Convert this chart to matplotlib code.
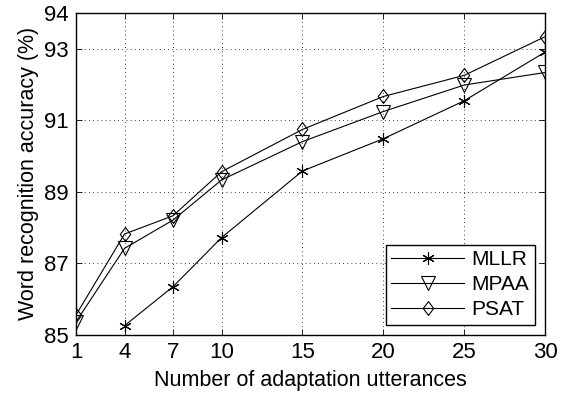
import numpy as np
import matplotlib

matplotlib.use("Agg")
import matplotlib.pyplot as plt

# data
utterances = [1, 4, 7, 10, 15, 20, 25, 30]
mllr = [np.nan, 85.26, 86.35, 87.72, 89.58, 90.48, 91.54, 92.90]
mpaa = [85.37, 87.42, 88.21, 89.33, 90.40, 91.24, 91.98, 92.33]
psat = [85.56, 87.82, 88.33, 89.56, 90.74, 91.66, 92.25, 93.33]
yticks = [85, 87, 89, 91, 93, 94]

DIAMOND = [(0, -1), (0.75, 0), (0, 1), (-0.75, 0), (0, -1)]


def main():
    plt.rcParams.update({"font.family": "Liberation Sans", "font.size": 15})
    fig = plt.figure(figsize=(5.66, 3.93), dpi=100)
    ax = fig.add_axes([0.1343, 0.1476, 0.8287, 0.8201])

    style = dict(color="black", linewidth=0.8, markerfacecolor="none",
                 markeredgecolor="black", markeredgewidth=0.8)
    ax.plot(utterances, mllr, marker=(6, 2, 0), markersize=9, label="MLLR", **style)
    ax.plot(utterances, mpaa, marker="v", markersize=9.5, label="MPAA", **style)
    ax.plot(utterances, psat, marker=DIAMOND, markersize=10, label="PSAT", **style)

    ax.set_xlim(1, 30)
    ax.set_ylim(85, 94)
    ax.set_xticks(utterances)
    ax.set_yticks(yticks)
    ax.grid(True, color="black", linestyle=(0, (1, 4)), linewidth=0.6)
    ax.tick_params(direction="in", top=True, right=True, length=4, width=0.6,
                   labelsize=16, pad=5)
    for sp in ax.spines.values():
        sp.set_linewidth(1.0)

    ax.set_xlabel("Number of adaptation utterances", fontsize=15.5, labelpad=5)
    ax.set_ylabel("Word recognition accuracy (%)", fontsize=15.5, labelpad=4)

    leg = ax.legend(loc="lower right", fontsize=15, fancybox=False, framealpha=1,
                    edgecolor="black", handlelength=3.5, borderaxespad=0.5,
                    labelspacing=0.3, handletextpad=0.35, borderpad=0.25)
    leg.get_frame().set_linewidth(1.0)

    fig.savefig("out.png", dpi=100, facecolor="white")
    plt.close()


if __name__ == "__main__":
    main()
